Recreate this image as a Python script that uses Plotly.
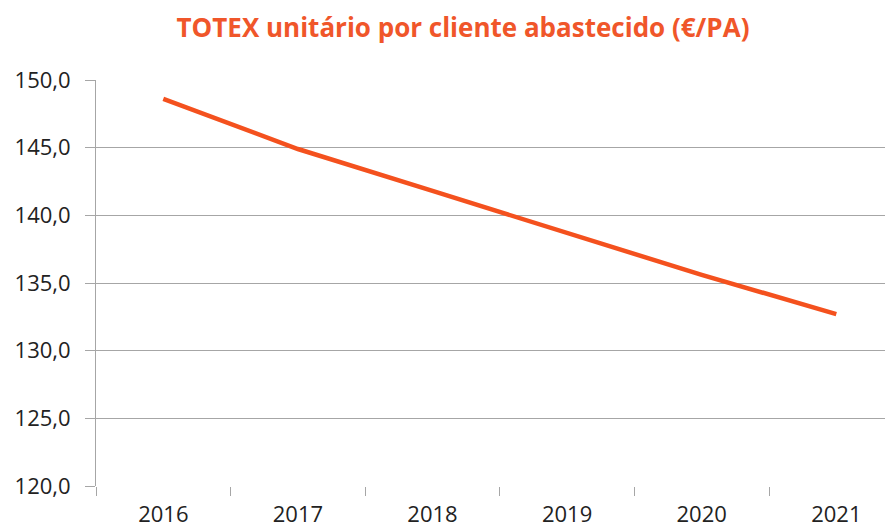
import plotly.graph_objects as go

years = ["2016", "2017", "2018", "2019", "2020", "2021"]
totex = [148.6, 144.9, 141.8, 138.7, 135.6, 132.7]
y_ticks = [120, 125, 130, 135, 140, 145, 150]

orange = "#F4511E"
grey = "#A6A6A6"

# the page adds an 8px body margin, so layout is offset by -8px
W, H = 893, 529
L, R = 88, 0
fig = go.Figure()
fig.add_trace(go.Scatter(x=years, y=totex, mode="lines",
                         line=dict(color=orange, width=4.5), showlegend=False))

fig.update_layout(
    width=W, height=H,
    margin=dict(l=L, r=R, t=72, b=51, autoexpand=False),
    paper_bgcolor="white", plot_bgcolor="white",
    separators=", ",
    title=dict(text="<b>TOTEX unitário por cliente abastecido (€/PA)</b>",
               x=455/W, xref="container", xanchor="center",
               y=1 - 20/H, yref="container", yanchor="middle",
               font=dict(family="Open Sans", size=26, color="#F0562A")),
    font=dict(family="Open Sans", size=22, color="#222222"),
)
fig.update_xaxes(
    type="category", range=[-0.5, -0.5 + (W - L - R)/134.6], autorange=False,
    tickson="boundaries", ticks="outside", ticklen=9, tickcolor=grey,
    showgrid=False, showline=False, zeroline=False, automargin=False,
    ticklabelstandoff=13, tickfont=dict(size=22),
)
fig.update_yaxes(
    range=[120, 150], autorange=False, tickvals=y_ticks, tickformat=".1f",
    showgrid=True, gridcolor=grey, gridwidth=1,
    showline=True, linecolor=grey, linewidth=1,
    ticks="outside", ticklen=10, tickcolor=grey, automargin=False,
    ticklabelstandoff=10, zeroline=False, tickfont=dict(size=22),
)
fig.write_html("out.html")
